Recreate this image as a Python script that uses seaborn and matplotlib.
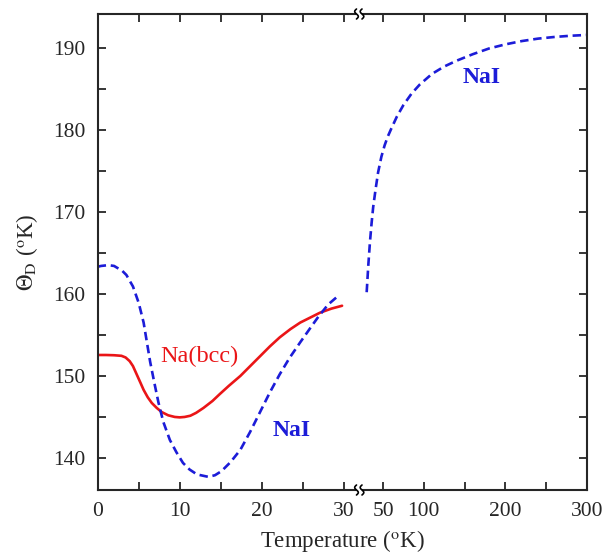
import numpy as np
import pandas as pd
import matplotlib
matplotlib.use("Agg")
import matplotlib.pyplot as plt
from matplotlib.lines import Line2D
import seaborn as sns

# Na(bcc), solid red, low temperature panel
na_T = [0, 1.0, 2.0, 2.9, 3.4, 3.9, 4.3, 4.75, 5.2, 5.6, 6.1, 6.6, 7.2, 7.8, 8.6,
        9.4, 10.0, 10.6, 11.3, 12.0, 12.9, 14.0, 14.9, 16.0, 17.4, 18.6, 19.8,
        21.0, 22.2, 23.5, 24.7, 26.0, 27.1, 28.5, 29.8]
na_theta = [152.55, 152.55, 152.52, 152.45, 152.25, 151.8, 151.2, 150.2, 149.2,
            148.3, 147.4, 146.7, 146.1, 145.6, 145.2, 145.0, 144.95, 145.0, 145.15,
            145.5, 146.1, 146.95, 147.8, 148.8, 150.0, 151.2, 152.4, 153.6, 154.7,
            155.7, 156.5, 157.15, 157.7, 158.2, 158.55]

# NaI, dashed blue, low temperature panel
nai_T = [0, 0.4, 1.3, 2.0, 2.5, 3.0, 3.5, 4.3, 5.0, 5.6, 6.0, 6.4, 6.9, 7.4, 8.0,
         8.8, 9.6, 10.4, 11.2, 12.1, 13.5, 14.3, 15.1, 16.2, 17.4, 18.6, 19.8,
         21.0, 22.2, 23.4, 24.7, 25.9, 26.9, 28.1, 29.5]
nai_theta = [163.3, 163.4, 163.5, 163.4, 163.1, 162.8, 162.3, 160.9, 158.9, 156.5,
             154.1, 151.7, 149.2, 146.8, 144.4, 142.2, 140.7, 139.4, 138.6, 138.0,
             137.7, 137.9, 138.4, 139.5, 141.0, 143.2, 145.6, 148.0, 150.2, 152.2,
             154.1, 155.8, 157.2, 158.7, 159.9]

# NaI, dashed blue, high temperature panel
nai_hi_T = [30, 32, 34, 36, 38, 41, 44, 48, 52, 56, 60, 67, 75, 85, 95, 110, 125,
            140, 160, 180, 200, 220, 240, 260, 280, 300]
nai_hi_theta = [160.2, 163.5, 166.3, 168.6, 170.6, 172.8, 174.8, 176.7, 178.1, 179.2,
                180.1, 181.6, 183.0, 184.4, 185.5, 186.8, 187.7, 188.4, 189.2, 189.9,
                190.4, 190.8, 191.1, 191.3, 191.45, 191.55]

lo_ticks = [0, 5, 10, 15, 20, 25, 30]
lo_labels = ["0", "", "10", "", "20", "", "30"]
hi_ticks = [50, 100, 150, 200, 250, 300]
hi_labels = ["50", "100", "", "200", "", "300"]
y_ticks = [140, 145, 150, 155, 160, 165, 170, 175, 180, 185, 190]
y_labels = ["140", "", "150", "", "160", "", "170", "", "180", "", "190"]

red = "#ea1517"
blue = "#1c1cd8"

sns.set_style("ticks")
plt.rcParams["font.family"] = ["Liberation Serif", "DejaVu Serif"]
plt.rcParams["mathtext.fontset"] = "stix"

lo = pd.DataFrame({"T": na_T, "theta": na_theta})
nai_lo = pd.DataFrame({"T": nai_T, "theta": nai_theta})
nai_hi = pd.DataFrame({"T": nai_hi_T, "theta": nai_hi_theta})

W, H = 608, 556
fig = plt.figure(figsize=(W / 100, H / 100), dpi=100)
bot, top = 490, 14
ax1 = fig.add_axes([97.7 / W, 1 - bot / H, (355 - 97.7) / W, (bot - top) / H])
ax2 = fig.add_axes([363 / W, 1 - bot / H, (587 - 363) / W, (bot - top) / H])

dash = (0, (3.2, 1.8))
sns.lineplot(data=lo, x="T", y="theta", ax=ax1, color=red, lw=1.9,
             estimator=None, sort=False)
sns.lineplot(data=nai_lo, x="T", y="theta", ax=ax1, color=blue, lw=1.9,
             estimator=None, sort=False, linestyle=dash)
sns.lineplot(data=nai_hi, x="T", y="theta", ax=ax2, color=blue, lw=1.9,
             estimator=None, sort=False, linestyle=dash)

ax1.set_xlim(0, (355 - 97.7) / 8.2)
ax2.set_xlim(50 - 20 / 0.816, 300)
for ax in (ax1, ax2):
    ax.set_ylim(136.1, 194.1)
    ax.set_xlabel("")
    ax.set_ylabel("")
    ax.set_yticks(y_ticks)
    for s in ax.spines.values():
        s.set_linewidth(1.5)
    ax.tick_params(direction="in", length=6, width=1.3, top=True, right=True,
                   labelsize=15.5, pad=9)

ax1.set_xticks(lo_ticks)
ax1.set_xticklabels(lo_labels)
ax1.set_yticklabels(y_labels)
ax1.spines["right"].set_visible(False)
ax1.tick_params(right=False)

ax2.set_xticks(hi_ticks)
ax2.set_xticklabels(hi_labels)
ax2.spines["left"].set_visible(False)
ax2.tick_params(left=False, labelleft=False)

ax1.text(12.35, 152.4, "Na(bcc)", color=red, fontsize=17.5, ha="center", va="center")
ax1.text(23.7, 143.3, "NaI", color=blue, fontsize=17, ha="center", va="center",
         fontweight="bold")
ax2.text(171, 186.4, "NaI", color=blue, fontsize=17, ha="center", va="center",
         fontweight="bold")

ax1.set_ylabel(r"$\Theta_{\rm D}$ ($^{\rm o}$K)", fontsize=16.5, labelpad=9)
fig.text(342 / W, 1 - 541 / H, r"Temperature ($^{\rm o}$K)", fontsize=16.5,
         ha="center", va="center")

# break marks on top and bottom spines
s = np.linspace(-1, 1, 30)
for yb in (top, bot):
    for xb in (356.5, 362):
        xs = (xb + 1.8 * np.sin(np.pi * s)) / W
        ys = 1 - (yb + 5 * s) / H
        fig.add_artist(Line2D(xs, ys, color="black", lw=1.2, transform=fig.transFigure))

fig.savefig("out.png", dpi=100)
